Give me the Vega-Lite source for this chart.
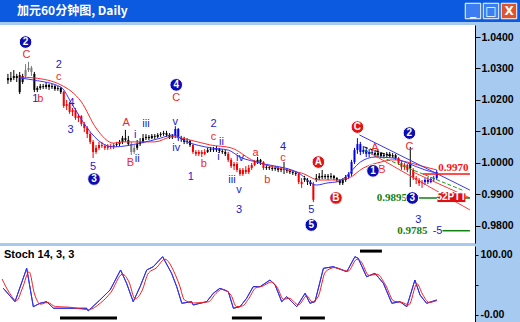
{
  "$schema": "https://vega.github.io/schema/vega-lite/v6.json",
  "background": "#A6CAF0",
  "padding": 0,
  "spacing": 3,
  "resolve": {"scale": {"color": "independent"}},
  "config": {"view": {"stroke": null}},
  "datasets": {
    "buttons": [
      {"b": "min", "k": "btn", "g": "_"},
      {"b": "max", "k": "btn", "g": "□"},
      {"b": "close", "k": "cls", "g": "X"}
    ],
    "candles": [
      {"i":0,"o":1.0270,"h":1.0283,"l":1.0251,"c":1.0263,"k":"side"},
      {"i":1,"o":1.0263,"h":1.0289,"l":1.0257,"c":1.0270,"k":"side"},
      {"i":2,"o":1.0270,"h":1.0295,"l":1.0263,"c":1.0276,"k":"side"},
      {"i":3,"o":1.0276,"h":1.0283,"l":1.0257,"c":1.0270,"k":"side"},
      {"i":4,"o":1.0279,"h":1.0289,"l":1.0219,"c":1.0225,"k":"side"},
      {"i":5,"o":1.0257,"h":1.0283,"l":1.0251,"c":1.0276,"k":"side"},
      {"i":6,"o":1.0276,"h":1.0314,"l":1.0270,"c":1.0295,"k":"dim"},
      {"i":7,"o":1.0295,"h":1.0321,"l":1.0289,"c":1.0302,"k":"dim"},
      {"i":8,"o":1.0302,"h":1.0308,"l":1.0276,"c":1.0289,"k":"dim"},
      {"i":9,"o":1.0283,"h":1.0289,"l":1.0225,"c":1.0232,"k":"side"},
      {"i":10,"o":1.0232,"h":1.0244,"l":1.0225,"c":1.0238,"k":"side"},
      {"i":11,"o":1.0238,"h":1.0251,"l":1.0232,"c":1.0244,"k":"side"},
      {"i":12,"o":1.0244,"h":1.0251,"l":1.0235,"c":1.0241,"k":"side"},
      {"i":13,"o":1.0241,"h":1.0257,"l":1.0235,"c":1.0248,"k":"side"},
      {"i":14,"o":1.0248,"h":1.0251,"l":1.0232,"c":1.0241,"k":"side"},
      {"i":15,"o":1.0241,"h":1.0251,"l":1.0235,"c":1.0244,"k":"side"},
      {"i":16,"o":1.0244,"h":1.0248,"l":1.0229,"c":1.0235,"k":"side"},
      {"i":17,"o":1.0235,"h":1.0244,"l":1.0229,"c":1.0238,"k":"side"},
      {"i":18,"o":1.0238,"h":1.0241,"l":1.0219,"c":1.0225,"k":"side"},
      {"i":19,"o":1.0225,"h":1.0229,"l":1.0175,"c":1.0181,"k":"fall"},
      {"i":20,"o":1.0181,"h":1.0200,"l":1.0168,"c":1.0187,"k":"fall"},
      {"i":21,"o":1.0187,"h":1.0194,"l":1.0156,"c":1.0162,"k":"fall"},
      {"i":22,"o":1.0162,"h":1.0175,"l":1.0149,"c":1.0168,"k":"fall"},
      {"i":23,"o":1.0168,"h":1.0175,"l":1.0137,"c":1.0143,"k":"fall"},
      {"i":24,"o":1.0143,"h":1.0156,"l":1.0130,"c":1.0149,"k":"fall"},
      {"i":25,"o":1.0149,"h":1.0152,"l":1.0117,"c":1.0124,"k":"fall"},
      {"i":26,"o":1.0124,"h":1.0130,"l":1.0098,"c":1.0111,"k":"fall"},
      {"i":27,"o":1.0111,"h":1.0117,"l":1.0079,"c":1.0092,"k":"fall"},
      {"i":28,"o":1.0092,"h":1.0098,"l":1.0060,"c":1.0067,"k":"fall"},
      {"i":29,"o":1.0067,"h":1.0073,"l":1.0016,"c":1.0035,"k":"fall"},
      {"i":30,"o":1.0035,"h":1.0057,"l":1.0029,"c":1.0048,"k":"fall"},
      {"i":31,"o":1.0048,"h":1.0067,"l":1.0041,"c":1.0057,"k":"fall"},
      {"i":32,"o":1.0057,"h":1.0067,"l":1.0048,"c":1.0054,"k":"fall"},
      {"i":33,"o":1.0054,"h":1.0060,"l":1.0041,"c":1.0048,"k":"fall"},
      {"i":34,"o":1.0048,"h":1.0060,"l":1.0041,"c":1.0054,"k":"fall"},
      {"i":35,"o":1.0054,"h":1.0060,"l":1.0044,"c":1.0051,"k":"fall"},
      {"i":36,"o":1.0051,"h":1.0063,"l":1.0044,"c":1.0057,"k":"fall"},
      {"i":37,"o":1.0057,"h":1.0067,"l":1.0051,"c":1.0060,"k":"side"},
      {"i":38,"o":1.0060,"h":1.0073,"l":1.0054,"c":1.0067,"k":"side"},
      {"i":39,"o":1.0067,"h":1.0086,"l":1.0060,"c":1.0079,"k":"side"},
      {"i":40,"o":1.0079,"h":1.0105,"l":1.0067,"c":1.0073,"k":"side"},
      {"i":41,"o":1.0073,"h":1.0086,"l":1.0054,"c":1.0060,"k":"side"},
      {"i":42,"o":1.0060,"h":1.0067,"l":1.0025,"c":1.0035,"k":"dim"},
      {"i":43,"o":1.0035,"h":1.0057,"l":1.0029,"c":1.0048,"k":"dim"},
      {"i":44,"o":1.0048,"h":1.0073,"l":1.0041,"c":1.0060,"k":"side"},
      {"i":45,"o":1.0060,"h":1.0079,"l":1.0054,"c":1.0067,"k":"side"},
      {"i":46,"o":1.0067,"h":1.0092,"l":1.0063,"c":1.0079,"k":"side"},
      {"i":47,"o":1.0079,"h":1.0092,"l":1.0073,"c":1.0083,"k":"side"},
      {"i":48,"o":1.0083,"h":1.0089,"l":1.0073,"c":1.0079,"k":"side"},
      {"i":49,"o":1.0079,"h":1.0092,"l":1.0076,"c":1.0086,"k":"side"},
      {"i":50,"o":1.0086,"h":1.0092,"l":1.0076,"c":1.0083,"k":"side"},
      {"i":51,"o":1.0083,"h":1.0095,"l":1.0079,"c":1.0089,"k":"side"},
      {"i":52,"o":1.0089,"h":1.0098,"l":1.0083,"c":1.0092,"k":"side"},
      {"i":53,"o":1.0092,"h":1.0102,"l":1.0086,"c":1.0095,"k":"side"},
      {"i":54,"o":1.0095,"h":1.0102,"l":1.0083,"c":1.0089,"k":"side"},
      {"i":55,"o":1.0089,"h":1.0095,"l":1.0076,"c":1.0083,"k":"side"},
      {"i":56,"o":1.0083,"h":1.0092,"l":1.0076,"c":1.0086,"k":"side"},
      {"i":57,"o":1.0086,"h":1.0117,"l":1.0079,"c":1.0108,"k":"rise"},
      {"i":58,"o":1.0108,"h":1.0111,"l":1.0070,"c":1.0079,"k":"rise"},
      {"i":59,"o":1.0079,"h":1.0086,"l":1.0067,"c":1.0076,"k":"side"},
      {"i":60,"o":1.0076,"h":1.0083,"l":1.0060,"c":1.0067,"k":"side"},
      {"i":61,"o":1.0067,"h":1.0079,"l":1.0060,"c":1.0070,"k":"side"},
      {"i":62,"o":1.0070,"h":1.0073,"l":1.0051,"c":1.0057,"k":"side"},
      {"i":63,"o":1.0057,"h":1.0060,"l":1.0029,"c":1.0035,"k":"fall"},
      {"i":64,"o":1.0035,"h":1.0041,"l":1.0022,"c":1.0029,"k":"fall"},
      {"i":65,"o":1.0029,"h":1.0041,"l":1.0022,"c":1.0035,"k":"fall"},
      {"i":66,"o":1.0035,"h":1.0041,"l":1.0019,"c":1.0029,"k":"fall"},
      {"i":67,"o":1.0029,"h":1.0044,"l":1.0025,"c":1.0035,"k":"fall"},
      {"i":68,"o":1.0035,"h":1.0048,"l":1.0032,"c":1.0041,"k":"side"},
      {"i":69,"o":1.0041,"h":1.0051,"l":1.0035,"c":1.0044,"k":"side"},
      {"i":70,"o":1.0044,"h":1.0051,"l":1.0035,"c":1.0041,"k":"side"},
      {"i":71,"o":1.0041,"h":1.0054,"l":1.0035,"c":1.0044,"k":"side"},
      {"i":72,"o":1.0044,"h":1.0048,"l":1.0032,"c":1.0038,"k":"side"},
      {"i":73,"o":1.0038,"h":1.0044,"l":1.0029,"c":1.0035,"k":"side"},
      {"i":74,"o":1.0035,"h":1.0041,"l":1.0022,"c":1.0029,"k":"side"},
      {"i":75,"o":1.0029,"h":1.0035,"l":1.0003,"c":1.0010,"k":"fall"},
      {"i":76,"o":1.0010,"h":1.0016,"l":0.9984,"c":0.9990,"k":"fall"},
      {"i":77,"o":0.9990,"h":1.0003,"l":0.9978,"c":0.9997,"k":"fall"},
      {"i":78,"o":0.9997,"h":1.0003,"l":0.9971,"c":0.9978,"k":"fall"},
      {"i":79,"o":0.9978,"h":0.9984,"l":0.9959,"c":0.9965,"k":"fall"},
      {"i":80,"o":0.9965,"h":0.9984,"l":0.9959,"c":0.9978,"k":"fall"},
      {"i":81,"o":0.9978,"h":0.9990,"l":0.9965,"c":0.9971,"k":"fall"},
      {"i":82,"o":0.9971,"h":0.9994,"l":0.9965,"c":0.9984,"k":"fall"},
      {"i":83,"o":0.9984,"h":1.0000,"l":0.9978,"c":0.9994,"k":"fall"},
      {"i":84,"o":0.9994,"h":1.0010,"l":0.9990,"c":1.0003,"k":"fall"},
      {"i":85,"o":1.0003,"h":1.0019,"l":0.9997,"c":1.0010,"k":"side"},
      {"i":86,"o":1.0010,"h":1.0013,"l":0.9994,"c":1.0003,"k":"side"},
      {"i":87,"o":1.0003,"h":1.0006,"l":0.9978,"c":0.9984,"k":"fall"},
      {"i":88,"o":0.9984,"h":0.9994,"l":0.9978,"c":0.9987,"k":"side"},
      {"i":89,"o":0.9987,"h":0.9990,"l":0.9978,"c":0.9984,"k":"side"},
      {"i":90,"o":0.9984,"h":0.9990,"l":0.9975,"c":0.9981,"k":"side"},
      {"i":91,"o":0.9981,"h":0.9990,"l":0.9975,"c":0.9984,"k":"side"},
      {"i":92,"o":0.9984,"h":0.9987,"l":0.9971,"c":0.9978,"k":"side"},
      {"i":93,"o":0.9978,"h":0.9987,"l":0.9971,"c":0.9981,"k":"side"},
      {"i":94,"o":0.9981,"h":1.0003,"l":0.9965,"c":0.9978,"k":"side"},
      {"i":95,"o":0.9978,"h":0.9984,"l":0.9968,"c":0.9975,"k":"side"},
      {"i":96,"o":0.9975,"h":0.9981,"l":0.9965,"c":0.9971,"k":"side"},
      {"i":97,"o":0.9971,"h":0.9978,"l":0.9962,"c":0.9968,"k":"side"},
      {"i":98,"o":0.9968,"h":0.9975,"l":0.9959,"c":0.9965,"k":"side"},
      {"i":99,"o":0.9965,"h":0.9968,"l":0.9933,"c":0.9940,"k":"fall"},
      {"i":100,"o":0.9940,"h":0.9952,"l":0.9921,"c":0.9933,"k":"fall"},
      {"i":101,"o":0.9952,"h":0.9959,"l":0.9940,"c":0.9946,"k":"side"},
      {"i":102,"o":0.9946,"h":0.9952,"l":0.9930,"c":0.9940,"k":"side"},
      {"i":103,"o":0.9940,"h":0.9946,"l":0.9927,"c":0.9933,"k":"side"},
      {"i":104,"o":0.9933,"h":0.9940,"l":0.9876,"c":0.9883,"k":"fall"},
      {"i":105,"o":0.9946,"h":0.9965,"l":0.9940,"c":0.9952,"k":"side"},
      {"i":106,"o":0.9952,"h":0.9968,"l":0.9946,"c":0.9959,"k":"side"},
      {"i":107,"o":0.9959,"h":0.9978,"l":0.9949,"c":0.9955,"k":"side"},
      {"i":108,"o":0.9955,"h":0.9965,"l":0.9949,"c":0.9959,"k":"side"},
      {"i":109,"o":0.9959,"h":0.9965,"l":0.9946,"c":0.9955,"k":"side"},
      {"i":110,"o":0.9955,"h":0.9968,"l":0.9949,"c":0.9959,"k":"side"},
      {"i":111,"o":0.9959,"h":0.9962,"l":0.9946,"c":0.9952,"k":"side"},
      {"i":112,"o":0.9952,"h":0.9955,"l":0.9940,"c":0.9946,"k":"side"},
      {"i":113,"o":0.9946,"h":0.9949,"l":0.9930,"c":0.9936,"k":"side"},
      {"i":114,"o":0.9936,"h":0.9952,"l":0.9930,"c":0.9946,"k":"side"},
      {"i":115,"o":0.9946,"h":0.9962,"l":0.9940,"c":0.9955,"k":"side"},
      {"i":116,"o":0.9955,"h":0.9971,"l":0.9949,"c":0.9965,"k":"rise"},
      {"i":117,"o":0.9965,"h":1.0010,"l":0.9959,"c":1.0003,"k":"rise"},
      {"i":118,"o":1.0003,"h":1.0048,"l":0.9997,"c":1.0041,"k":"rise"},
      {"i":119,"o":1.0041,"h":1.0079,"l":1.0029,"c":1.0060,"k":"rise"},
      {"i":120,"o":1.0060,"h":1.0067,"l":1.0025,"c":1.0035,"k":"rise"},
      {"i":121,"o":1.0035,"h":1.0054,"l":1.0029,"c":1.0041,"k":"rise"},
      {"i":122,"o":1.0041,"h":1.0048,"l":1.0019,"c":1.0029,"k":"rise"},
      {"i":123,"o":1.0029,"h":1.0044,"l":1.0019,"c":1.0035,"k":"rise"},
      {"i":124,"o":1.0035,"h":1.0044,"l":1.0025,"c":1.0032,"k":"rise"},
      {"i":125,"o":1.0032,"h":1.0041,"l":1.0019,"c":1.0025,"k":"side"},
      {"i":126,"o":1.0025,"h":1.0044,"l":1.0019,"c":1.0032,"k":"side"},
      {"i":127,"o":1.0032,"h":1.0035,"l":1.0016,"c":1.0022,"k":"side"},
      {"i":128,"o":1.0022,"h":1.0032,"l":1.0016,"c":1.0025,"k":"side"},
      {"i":129,"o":1.0025,"h":1.0035,"l":1.0019,"c":1.0029,"k":"side"},
      {"i":130,"o":1.0029,"h":1.0035,"l":1.0016,"c":1.0022,"k":"side"},
      {"i":131,"o":1.0022,"h":1.0032,"l":1.0016,"c":1.0025,"k":"side"},
      {"i":132,"o":1.0025,"h":1.0029,"l":1.0010,"c":1.0016,"k":"side"},
      {"i":133,"o":1.0016,"h":1.0019,"l":0.9994,"c":1.0000,"k":"fall"},
      {"i":134,"o":1.0000,"h":1.0006,"l":0.9978,"c":0.9987,"k":"fall"},
      {"i":135,"o":0.9987,"h":1.0000,"l":0.9978,"c":0.9994,"k":"fall"},
      {"i":136,"o":0.9994,"h":0.9997,"l":0.9971,"c":0.9978,"k":"fall"},
      {"i":137,"o":0.9984,"h":1.0051,"l":0.9924,"c":0.9997,"k":"side"},
      {"i":138,"o":0.9978,"h":0.9984,"l":0.9946,"c":0.9952,"k":"fall"},
      {"i":139,"o":0.9952,"h":0.9959,"l":0.9933,"c":0.9946,"k":"fall"},
      {"i":140,"o":0.9946,"h":0.9952,"l":0.9927,"c":0.9936,"k":"fall"},
      {"i":141,"o":0.9936,"h":0.9946,"l":0.9921,"c":0.9940,"k":"fall"},
      {"i":142,"o":0.9940,"h":0.9952,"l":0.9930,"c":0.9946,"k":"rise"},
      {"i":143,"o":0.9946,"h":0.9955,"l":0.9933,"c":0.9940,"k":"rise"},
      {"i":144,"o":0.9940,"h":0.9955,"l":0.9936,"c":0.9949,"k":"rise"},
      {"i":145,"o":0.9949,"h":0.9959,"l":0.9940,"c":0.9952,"k":"rise"},
      {"i":146,"o":0.9952,"h":0.9978,"l":0.9946,"c":0.9971,"k":"rise"}
    ],
    "ma": [
      {"i":4,"v":1.0273,"k":"slow"},{"i":9,"v":1.0270,"k":"slow"},{"i":18,"v":1.0248,"k":"slow"},{"i":25,"v":1.0194,"k":"slow"},{"i":30,"v":1.0111,"k":"slow"},{"i":36,"v":1.0063,"k":"slow"},{"i":39,"v":1.0067,"k":"slow"},{"i":42,"v":1.0067,"k":"slow"},{"i":50,"v":1.0067,"k":"slow"},{"i":56,"v":1.0083,"k":"slow"},{"i":62,"v":1.0073,"k":"slow"},{"i":69,"v":1.0057,"k":"slow"},{"i":76,"v":1.0048,"k":"slow"},{"i":83,"v":1.0010,"k":"slow"},{"i":95,"v":0.9978,"k":"slow"},{"i":100,"v":0.9968,"k":"slow"},{"i":106,"v":0.9946,"k":"slow"},{"i":112,"v":0.9946,"k":"slow"},{"i":116,"v":0.9952,"k":"slow"},{"i":121,"v":0.9984,"k":"slow"},{"i":127,"v":1.0003,"k":"slow"},{"i":131,"v":1.0010,"k":"slow"},{"i":136,"v":1.0003,"k":"slow"},{"i":141,"v":0.9990,"k":"slow"},{"i":146,"v":0.9978,"k":"slow"},
      {"i":4,"v":1.0270,"k":"fast"},{"i":9,"v":1.0263,"k":"fast"},{"i":18,"v":1.0241,"k":"fast"},{"i":22,"v":1.0184,"k":"fast"},{"i":27,"v":1.0111,"k":"fast"},{"i":32,"v":1.0063,"k":"fast"},{"i":36,"v":1.0051,"k":"fast"},{"i":45,"v":1.0063,"k":"fast"},{"i":52,"v":1.0079,"k":"fast"},{"i":56,"v":1.0089,"k":"fast"},{"i":61,"v":1.0067,"k":"fast"},{"i":69,"v":1.0048,"k":"fast"},{"i":75,"v":1.0041,"k":"fast"},{"i":79,"v":1.0019,"k":"fast"},{"i":86,"v":1.0000,"k":"fast"},{"i":99,"v":0.9968,"k":"fast"},{"i":105,"v":0.9930,"k":"fast"},{"i":109,"v":0.9937,"k":"fast"},{"i":112,"v":0.9940,"k":"fast"},{"i":115,"v":0.9956,"k":"fast"},{"i":120,"v":1.0003,"k":"fast"},{"i":125,"v":1.0019,"k":"fast"},{"i":131,"v":1.0016,"k":"fast"},{"i":136,"v":1.0000,"k":"fast"},{"i":142,"v":0.9978,"k":"fast"},{"i":146,"v":0.9968,"k":"fast"}
    ],
    "trend": [
      {"g":"t1","k":"chan","i":119.7,"v":1.0089},{"g":"t1","k":"chan","i":157.3,"v":0.9914},
      {"g":"t2","k":"chanR","i":123.3,"v":1.0032},{"g":"t2","k":"chanR","i":157.3,"v":0.9851},
      {"g":"t3","k":"chanR","i":138,"v":0.9971},{"g":"t3","k":"chanR","i":157.3,"v":0.9889}
    ],
    "trendDash": [
      {"g":"t4","k":"fibG","i":121.3,"v":1.0041},{"g":"t4","k":"fibG","i":154.7,"v":0.9914},
      {"g":"t5","k":"fibK","i":121.3,"v":1.0051},{"g":"t5","k":"fibK","i":131.3,"v":1.0019}
    ],
    "levels": [
      {"i":141.3,"i2":157.3,"v":0.9965,"k":"lvlR"},
      {"i":139,"i2":157.3,"v":0.9889,"k":"lvlG"},
      {"i":148,"i2":157.3,"v":0.9785,"k":"lvlG"}
    ],
    "levelText": [
      {"t":"0.9970","i":151.7,"v":0.9984,"k":"lvlR"},
      {"t":"0.9895","i":130.7,"v":0.9889,"k":"lvlG"},
      {"t":"0.9785","i":137.7,"v":0.9785,"k":"lvlG"}
    ],
    "waves": [
      {"t":"C","i":6.3,"v":1.0343,"k":"let"},
      {"t":"1","i":9.3,"v":1.0203,"k":"num"},
      {"t":"b","i":11,"v":1.0203,"k":"let"},
      {"t":"2","i":17.3,"v":1.0311,"k":"num"},
      {"t":"c","i":17.3,"v":1.0273,"k":"let"},
      {"t":"4","i":21.7,"v":1.0190,"k":"num"},
      {"t":"3","i":21.3,"v":1.0105,"k":"num"},
      {"t":"5","i":29,"v":0.9987,"k":"num"},
      {"t":"A","i":40.3,"v":1.0127,"k":"let"},
      {"t":"B","i":41.7,"v":1.0000,"k":"let"},
      {"t":"i","i":43.3,"v":1.0089,"k":"num"},
      {"t":"ii","i":44,"v":1.0013,"k":"num"},
      {"t":"iii","i":47,"v":1.0124,"k":"num"},
      {"t":"v","i":57,"v":1.0130,"k":"num"},
      {"t":"iv","i":57.3,"v":1.0048,"k":"num"},
      {"t":"C","i":57.3,"v":1.0206,"k":"let"},
      {"t":"1","i":62.3,"v":0.9956,"k":"num"},
      {"t":"b","i":66.7,"v":0.9997,"k":"let"},
      {"t":"2","i":70,"v":1.0124,"k":"num"},
      {"t":"c","i":70,"v":1.0083,"k":"let"},
      {"t":"ii","i":72.7,"v":1.0067,"k":"num"},
      {"t":"i","i":71.7,"v":1.0019,"k":"num"},
      {"t":"iii","i":76.3,"v":0.9946,"k":"num"},
      {"t":"v","i":78.7,"v":0.9914,"k":"num"},
      {"t":"3","i":78.7,"v":0.9851,"k":"num"},
      {"t":"iv","i":79,"v":1.0016,"k":"num"},
      {"t":"a","i":84.3,"v":1.0032,"k":"let"},
      {"t":"b","i":88.3,"v":0.9946,"k":"let"},
      {"t":"4","i":93.7,"v":1.0051,"k":"num"},
      {"t":"c","i":93.7,"v":1.0016,"k":"let"},
      {"t":"5","i":103.3,"v":0.9851,"k":"num"},
      {"t":"A","i":125,"v":1.0048,"k":"let"},
      {"t":"B","i":127.3,"v":0.9978,"k":"let"},
      {"t":"C","i":136.7,"v":1.0051,"k":"let"},
      {"t":"3","i":139.7,"v":0.9819,"k":"num"},
      {"t":"-5","i":146.3,"v":0.9785,"k":"num"}
    ],
    "circles": [
      {"t":"2","i":6,"v":1.0384,"k":"cB"},
      {"t":"3","i":29.3,"v":0.9949,"k":"cB"},
      {"t":"4","i":57.3,"v":1.0248,"k":"cB"},
      {"t":"5","i":103.3,"v":0.9803,"k":"cB"},
      {"t":"A","i":105.7,"v":1.0003,"k":"cR"},
      {"t":"B","i":111.7,"v":0.9889,"k":"cR"},
      {"t":"C","i":119,"v":1.0114,"k":"cR"},
      {"t":"1","i":124.3,"v":0.9975,"k":"cB"},
      {"t":"2","i":136.7,"v":1.0095,"k":"cB"},
      {"t":"3","i":137.7,"v":0.9889,"k":"cB"}
    ],
    "tag": [
      {"t":"52PTT","i":151,"v":0.9892,"k":"tag"}
    ],
    "stK": [
      {"i":0.1,"v":44.5},{"i":4,"v":22.2},{"i":7.9,"v":77.8},{"i":10.1,"v":13.8},{"i":12.3,"v":19.5},{"i":14.6,"v":22.2},{"i":16.8,"v":11.2},{"i":27.9,"v":11.2},{"i":28.4,"v":6.7},{"i":32.3,"v":25},{"i":35.7,"v":41.7},{"i":39.2,"v":75},{"i":41.2,"v":52.8},{"i":43.4,"v":22.2},{"i":45.7,"v":47.2},{"i":47.9,"v":75},{"i":50.1,"v":80.5},{"i":53.2,"v":97.2},{"i":56.2,"v":69.5},{"i":57.9,"v":47.2},{"i":59.6,"v":19.5},{"i":62.9,"v":22.2},{"i":63.4,"v":16.7},{"i":67.9,"v":22.2},{"i":70.1,"v":36.2},{"i":72.3,"v":44.5},{"i":75.1,"v":38.8},{"i":76.8,"v":11.2},{"i":79,"v":13.8},{"i":81.2,"v":27.8},{"i":83.4,"v":47.2},{"i":85.7,"v":47.2},{"i":89,"v":58.3},{"i":90.7,"v":50},{"i":92.9,"v":22.2},{"i":94.6,"v":30.5},{"i":97.9,"v":13.8},{"i":100.7,"v":36.2},{"i":102.3,"v":19.5},{"i":104,"v":22.2},{"i":106.8,"v":77.8},{"i":110.1,"v":80.5},{"i":114.6,"v":72.2},{"i":117.3,"v":97.2},{"i":118.4,"v":94.5},{"i":121.2,"v":63.8},{"i":124,"v":69.5},{"i":126.8,"v":52.8},{"i":129.6,"v":19.5},{"i":132.3,"v":22.2},{"i":134.6,"v":13.8},{"i":137.3,"v":58.3},{"i":139,"v":33.3},{"i":141.2,"v":19.5},{"i":144.6,"v":25}
    ],
    "stD": [
      {"i":-0.3,"v":60},{"i":2,"v":38},{"i":4.5,"v":24},{"i":6.5,"v":45},{"i":8.7,"v":72},{"i":10.5,"v":35},{"i":12.5,"v":18},{"i":14.8,"v":21},{"i":17.5,"v":14},{"i":22,"v":13},{"i":28.5,"v":9},{"i":32.5,"v":20},{"i":36,"v":38},{"i":39.8,"v":68},{"i":42,"v":55},{"i":44,"v":27},{"i":46.3,"v":40},{"i":48.5,"v":70},{"i":51,"v":78},{"i":54,"v":93},{"i":57,"v":72},{"i":58.8,"v":50},{"i":60.5,"v":25},{"i":63.5,"v":20},{"i":68.5,"v":22},{"i":71,"v":36},{"i":73,"v":43},{"i":76,"v":33},{"i":77.8,"v":14},{"i":79.8,"v":15},{"i":82,"v":28},{"i":84.2,"v":45},{"i":86.5,"v":48},{"i":89.5,"v":55},{"i":91.5,"v":45},{"i":93.5,"v":26},{"i":95.3,"v":28},{"i":98.5,"v":17},{"i":101.3,"v":32},{"i":103,"v":22},{"i":105,"v":30},{"i":107.5,"v":72},{"i":110.5,"v":79},{"i":115,"v":73},{"i":118,"v":93},{"i":119.2,"v":90},{"i":122,"v":66},{"i":124.7,"v":68},{"i":127.5,"v":50},{"i":130.3,"v":23},{"i":133,"v":21},{"i":135.3,"v":17},{"i":138,"v":52},{"i":139.8,"v":35},{"i":142,"v":21},{"i":144.6,"v":24}
    ],
    "timebars": [
      {"i":19,"i2":38,"v":-5},
      {"i":76.3,"i2":86.3,"v":-5},
      {"i":99,"i2":107.3,"v":-5},
      {"i":119,"i2":126.3,"v":106.5}
    ]
  },
  "vconcat": [
    {
      "width": 520,
      "height": 22,
      "view": {"fill": "#0B5ADF", "stroke": null},
      "title": {"text": "加元60分钟图, Daily", "anchor": "start", "frame": "group", "orient": "top", "offset": -18, "dx": 17, "color": "white", "font": "Noto Sans CJK SC", "fontSize": 12, "fontWeight": "bold"},
      "data": {"name": "buttons"},
      "layer": [
        {
          "mark": {"type": "point", "shape": "square", "filled": true, "size": 240, "stroke": "white", "strokeWidth": 1, "opacity": 1},
          "encoding": {
            "x": {"field": "b", "type": "nominal", "scale": {"type": "point", "domain": ["min", "max", "close"], "range": [473, 509], "padding": 0}, "axis": null},
            "color": {"field": "k", "type": "nominal", "scale": {"domain": ["btn", "cls"], "range": ["#3D7DF2", "#E0542A"]}, "legend": null}
          }
        },
        {
          "mark": {"type": "text", "color": "white", "fontWeight": "bold", "fontSize": 12, "font": "DejaVu Sans", "baseline": "middle"},
          "encoding": {
            "x": {"field": "b", "type": "nominal", "scale": {"type": "point", "domain": ["min", "max", "close"], "range": [473, 509], "padding": 0}, "axis": null},
            "text": {"field": "g"}
          }
        }
      ]
    },
    {
      "width": 475,
      "height": 218,
      "view": {"fill": "white", "stroke": null},
      "resolve": {"axis": {"y": "independent"}},
      "layer": [
        {
          "data": {"name": "candles"},
          "mark": {"type": "rule", "strokeWidth": 1},
          "encoding": {
            "x": {"field": "i", "type": "quantitative", "scale": {"domain": [-1, 157.333], "nice": false, "zero": false}, "axis": null},
            "y": {"field": "l", "type": "quantitative", "scale": {"domain": [0.9746, 1.04381], "nice": false, "zero": false},
              "axis": {"orient": "right", "values": [0.98, 0.99, 1.0, 1.01, 1.02, 1.03, 1.04], "format": ".4f", "title": null, "grid": false, "domain": true, "domainColor": "#000000", "ticks": true, "tickColor": "#000000", "tickSize": 5, "labels": true, "labelFont": "Liberation Sans", "labelFontSize": 10.5, "labelFontWeight": "bold", "labelColor": "#000000", "labelPadding": 1}},
            "y2": {"field": "h"},
            "color": {"field": "k", "type": "nominal", "scale": {"domain": ["side","fall","rise","dim","slow","fast","chan","chanR","fibG","fibK","lvlR","lvlG","num","let","cB","cR","tag"], "range": ["#000000","#F40000","#0000F0","#7A7A7A","#FF2828","#3434FF","#3A3AF0","#FF3A3A","#18A018","#000000","#FF1010","#108010","#1A1AD0","#F02828","#0C0CB4","#E01414","#E01010"]}, "legend": null}
          }
        },
        {
          "data": {"name": "candles"},
          "mark": {"type": "bar", "size": 2, "clip": true},
          "encoding": {
            "x": {"field": "i", "type": "quantitative", "scale": {"domain": [-1, 157.333], "nice": false, "zero": false}, "axis": null},
            "y": {"field": "o", "type": "quantitative", "scale": {"domain": [0.9746, 1.04381], "nice": false, "zero": false}, "axis": null},
            "y2": {"field": "c"},
            "color": {"field": "k", "type": "nominal", "scale": {"domain": ["side","fall","rise","dim","slow","fast","chan","chanR","fibG","fibK","lvlR","lvlG","num","let","cB","cR","tag"], "range": ["#000000","#F40000","#0000F0","#7A7A7A","#FF2828","#3434FF","#3A3AF0","#FF3A3A","#18A018","#000000","#FF1010","#108010","#1A1AD0","#F02828","#0C0CB4","#E01414","#E01010"]}, "legend": null}
          }
        },
        {
          "data": {"name": "ma"},
          "mark": {"type": "line", "strokeWidth": 1, "interpolate": "monotone", "clip": true},
          "encoding": {
            "x": {"field": "i", "type": "quantitative", "scale": {"domain": [-1, 157.333], "nice": false, "zero": false}, "axis": null},
            "y": {"field": "v", "type": "quantitative", "scale": {"domain": [0.9746, 1.04381], "nice": false, "zero": false}, "axis": null},
            "color": {"field": "k", "type": "nominal", "scale": {"domain": ["side","fall","rise","dim","slow","fast","chan","chanR","fibG","fibK","lvlR","lvlG","num","let","cB","cR","tag"], "range": ["#000000","#F40000","#0000F0","#7A7A7A","#FF2828","#3434FF","#3A3AF0","#FF3A3A","#18A018","#000000","#FF1010","#108010","#1A1AD0","#F02828","#0C0CB4","#E01414","#E01010"]}, "legend": null}
          }
        },
        {
          "data": {"name": "trend"},
          "mark": {"type": "line", "strokeWidth": 1, "clip": true},
          "encoding": {
            "x": {"field": "i", "type": "quantitative", "scale": {"domain": [-1, 157.333], "nice": false, "zero": false}, "axis": null},
            "y": {"field": "v", "type": "quantitative", "scale": {"domain": [0.9746, 1.04381], "nice": false, "zero": false}, "axis": null},
            "detail": {"field": "g"},
            "color": {"field": "k", "type": "nominal", "scale": {"domain": ["side","fall","rise","dim","slow","fast","chan","chanR","fibG","fibK","lvlR","lvlG","num","let","cB","cR","tag"], "range": ["#000000","#F40000","#0000F0","#7A7A7A","#FF2828","#3434FF","#3A3AF0","#FF3A3A","#18A018","#000000","#FF1010","#108010","#1A1AD0","#F02828","#0C0CB4","#E01414","#E01010"]}, "legend": null}
          }
        },
        {
          "data": {"name": "trendDash"},
          "mark": {"type": "line", "strokeWidth": 1, "strokeDash": [4, 2], "clip": true},
          "encoding": {
            "x": {"field": "i", "type": "quantitative", "scale": {"domain": [-1, 157.333], "nice": false, "zero": false}, "axis": null},
            "y": {"field": "v", "type": "quantitative", "scale": {"domain": [0.9746, 1.04381], "nice": false, "zero": false}, "axis": null},
            "detail": {"field": "g"},
            "color": {"field": "k", "type": "nominal", "scale": {"domain": ["side","fall","rise","dim","slow","fast","chan","chanR","fibG","fibK","lvlR","lvlG","num","let","cB","cR","tag"], "range": ["#000000","#F40000","#0000F0","#7A7A7A","#FF2828","#3434FF","#3A3AF0","#FF3A3A","#18A018","#000000","#FF1010","#108010","#1A1AD0","#F02828","#0C0CB4","#E01414","#E01010"]}, "legend": null}
          }
        },
        {
          "data": {"name": "levels"},
          "mark": {"type": "rule", "strokeWidth": 1.5, "clip": true},
          "encoding": {
            "x": {"field": "i", "type": "quantitative", "scale": {"domain": [-1, 157.333], "nice": false, "zero": false}, "axis": null},
            "x2": {"field": "i2"},
            "y": {"field": "v", "type": "quantitative", "scale": {"domain": [0.9746, 1.04381], "nice": false, "zero": false}, "axis": null},
            "color": {"field": "k", "type": "nominal", "scale": {"domain": ["side","fall","rise","dim","slow","fast","chan","chanR","fibG","fibK","lvlR","lvlG","num","let","cB","cR","tag"], "range": ["#000000","#F40000","#0000F0","#7A7A7A","#FF2828","#3434FF","#3A3AF0","#FF3A3A","#18A018","#000000","#FF1010","#108010","#1A1AD0","#F02828","#0C0CB4","#E01414","#E01010"]}, "legend": null}
          }
        },
        {
          "data": {"name": "levelText"},
          "mark": {"type": "text", "font": "Liberation Serif", "fontWeight": "bold", "fontSize": 11, "baseline": "middle", "align": "center"},
          "encoding": {
            "x": {"field": "i", "type": "quantitative", "scale": {"domain": [-1, 157.333], "nice": false, "zero": false}, "axis": null},
            "y": {"field": "v", "type": "quantitative", "scale": {"domain": [0.9746, 1.04381], "nice": false, "zero": false}, "axis": null},
            "text": {"field": "t"},
            "color": {"field": "k", "type": "nominal", "scale": {"domain": ["side","fall","rise","dim","slow","fast","chan","chanR","fibG","fibK","lvlR","lvlG","num","let","cB","cR","tag"], "range": ["#000000","#F40000","#0000F0","#7A7A7A","#FF2828","#3434FF","#3A3AF0","#FF3A3A","#18A018","#000000","#FF1010","#108010","#1A1AD0","#F02828","#0C0CB4","#E01414","#E01010"]}, "legend": null}
          }
        },
        {
          "data": {"name": "waves"},
          "mark": {"type": "text", "font": "Liberation Sans", "fontSize": 11, "baseline": "middle", "align": "center"},
          "encoding": {
            "x": {"field": "i", "type": "quantitative", "scale": {"domain": [-1, 157.333], "nice": false, "zero": false}, "axis": null},
            "y": {"field": "v", "type": "quantitative", "scale": {"domain": [0.9746, 1.04381], "nice": false, "zero": false}, "axis": null},
            "text": {"field": "t"},
            "color": {"field": "k", "type": "nominal", "scale": {"domain": ["side","fall","rise","dim","slow","fast","chan","chanR","fibG","fibK","lvlR","lvlG","num","let","cB","cR","tag"], "range": ["#000000","#F40000","#0000F0","#7A7A7A","#FF2828","#3434FF","#3A3AF0","#FF3A3A","#18A018","#000000","#FF1010","#108010","#1A1AD0","#F02828","#0C0CB4","#E01414","#E01010"]}, "legend": null}
          }
        },
        {
          "data": {"name": "circles"},
          "mark": {"type": "point", "shape": "circle", "filled": true, "size": 160, "stroke": "white", "strokeWidth": 1, "opacity": 1},
          "encoding": {
            "x": {"field": "i", "type": "quantitative", "scale": {"domain": [-1, 157.333], "nice": false, "zero": false}, "axis": null},
            "y": {"field": "v", "type": "quantitative", "scale": {"domain": [0.9746, 1.04381], "nice": false, "zero": false}, "axis": null},
            "color": {"field": "k", "type": "nominal", "scale": {"domain": ["side","fall","rise","dim","slow","fast","chan","chanR","fibG","fibK","lvlR","lvlG","num","let","cB","cR","tag"], "range": ["#000000","#F40000","#0000F0","#7A7A7A","#FF2828","#3434FF","#3A3AF0","#FF3A3A","#18A018","#000000","#FF1010","#108010","#1A1AD0","#F02828","#0C0CB4","#E01414","#E01010"]}, "legend": null}
          }
        },
        {
          "data": {"name": "circles"},
          "mark": {"type": "text", "color": "white", "font": "Liberation Sans", "fontWeight": "bold", "fontSize": 10, "baseline": "middle", "align": "center"},
          "encoding": {
            "x": {"field": "i", "type": "quantitative", "scale": {"domain": [-1, 157.333], "nice": false, "zero": false}, "axis": null},
            "y": {"field": "v", "type": "quantitative", "scale": {"domain": [0.9746, 1.04381], "nice": false, "zero": false}, "axis": null},
            "text": {"field": "t"}
          }
        },
        {
          "data": {"name": "tag"},
          "mark": {"type": "point", "shape": "M-1,-0.36H1V0.36H-1Z", "filled": true, "size": 784, "opacity": 1},
          "encoding": {
            "x": {"field": "i", "type": "quantitative", "scale": {"domain": [-1, 157.333], "nice": false, "zero": false}, "axis": null},
            "y": {"field": "v", "type": "quantitative", "scale": {"domain": [0.9746, 1.04381], "nice": false, "zero": false}, "axis": null},
            "color": {"field": "k", "type": "nominal", "scale": {"domain": ["side","fall","rise","dim","slow","fast","chan","chanR","fibG","fibK","lvlR","lvlG","num","let","cB","cR","tag"], "range": ["#000000","#F40000","#0000F0","#7A7A7A","#FF2828","#3434FF","#3A3AF0","#FF3A3A","#18A018","#000000","#FF1010","#108010","#1A1AD0","#F02828","#0C0CB4","#E01414","#E01010"]}, "legend": null}
          }
        },
        {
          "data": {"name": "tag"},
          "mark": {"type": "text", "color": "white", "font": "Liberation Sans", "fontWeight": "bold", "fontSize": 10, "baseline": "middle", "align": "center"},
          "encoding": {
            "x": {"field": "i", "type": "quantitative", "scale": {"domain": [-1, 157.333], "nice": false, "zero": false}, "axis": null},
            "y": {"field": "v", "type": "quantitative", "scale": {"domain": [0.9746, 1.04381], "nice": false, "zero": false}, "axis": null},
            "text": {"field": "t"}
          }
        }
      ]
    },
    {
      "width": 475,
      "height": 76,
      "view": {"fill": "white", "stroke": null},
      "resolve": {"axis": {"y": "independent"}},
      "title": {"text": "Stoch 14, 3, 3", "anchor": "start", "frame": "group", "orient": "top", "offset": -14, "dx": 4, "color": "black", "font": "Liberation Sans", "fontSize": 11, "fontWeight": "bold"},
      "layer": [
        {
          "data": {"name": "stK"},
          "mark": {"type": "line", "color": "#3030F0", "strokeWidth": 1},
          "encoding": {
            "x": {"field": "i", "type": "quantitative", "scale": {"domain": [-1, 157.333], "nice": false, "zero": false}, "axis": null},
            "y": {"field": "v", "type": "quantitative", "scale": {"domain": [-11.7, 115], "nice": false, "zero": false},
              "axis": {"orient": "right", "values": [0, 50, 100], "labelExpr": "datum.value == 100 ? '100.00' : datum.value == 0 ? '-0.00' : ''", "title": null, "grid": false, "domain": true, "domainColor": "#000000", "ticks": true, "tickColor": "#000000", "tickSize": 3, "labels": true, "labelFont": "Liberation Sans", "labelFontSize": 10.5, "labelFontWeight": "bold", "labelColor": "#000000", "labelPadding": 2}}
          }
        },
        {
          "mark": {"type": "rule", "color": "#505050", "strokeWidth": 2},
          "encoding": {
            "y": {"datum": 75, "type": "quantitative", "scale": {"domain": [-11.7, 115], "nice": false, "zero": false}, "axis": null}
          }
        },
        {
          "mark": {"type": "rule", "color": "#A8A8A8", "strokeWidth": 2},
          "encoding": {
            "y": {"datum": 25, "type": "quantitative", "scale": {"domain": [-11.7, 115], "nice": false, "zero": false}, "axis": null}
          }
        },
        {
          "data": {"name": "stK"},
          "mark": {"type": "line", "color": "#3030F0", "strokeWidth": 1, "clip": true},
          "encoding": {
            "x": {"field": "i", "type": "quantitative", "scale": {"domain": [-1, 157.333], "nice": false, "zero": false}, "axis": null},
            "y": {"field": "v", "type": "quantitative", "scale": {"domain": [-11.7, 115], "nice": false, "zero": false}, "axis": null}
          }
        },
        {
          "data": {"name": "stD"},
          "mark": {"type": "line", "color": "#F02020", "strokeWidth": 1, "interpolate": "monotone", "clip": true},
          "encoding": {
            "x": {"field": "i", "type": "quantitative", "scale": {"domain": [-1, 157.333], "nice": false, "zero": false}, "axis": null},
            "y": {"field": "v", "type": "quantitative", "scale": {"domain": [-11.7, 115], "nice": false, "zero": false}, "axis": null}
          }
        },
        {
          "data": {"name": "timebars"},
          "mark": {"type": "rule", "color": "#000000", "strokeWidth": 3},
          "encoding": {
            "x": {"field": "i", "type": "quantitative", "scale": {"domain": [-1, 157.333], "nice": false, "zero": false}, "axis": null},
            "x2": {"field": "i2"},
            "y": {"field": "v", "type": "quantitative", "scale": {"domain": [-11.7, 115], "nice": false, "zero": false}, "axis": null}
          }
        }
      ]
    }
  ]
}
